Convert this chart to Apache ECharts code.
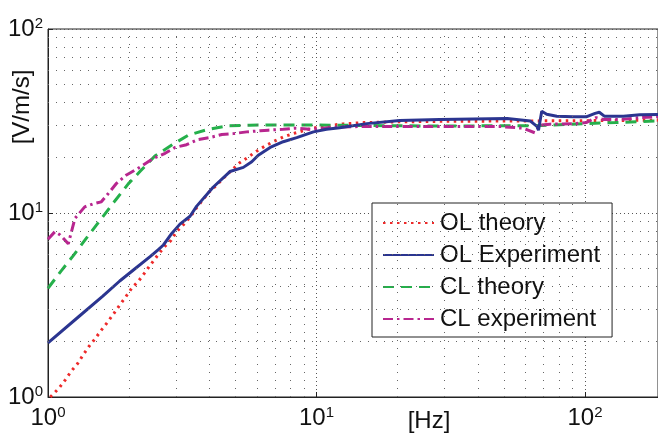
<!DOCTYPE html>
<html>
<head>
<meta charset="utf-8">
<script src="https://cdn.jsdelivr.net/npm/echarts/dist/echarts.min.js"></script>
<style>
  html, body { margin: 0; padding: 0; background: #fff; }
  #chart { width: 658px; height: 433px; }
</style>
</head>
<body>
<div id="chart"></div>
<script>
// OL theory
const olTheoryF = [1.02, 1.1, 1.16, 1.22, 1.29, 1.35, 1.42, 1.5, 1.58, 1.67, 1.76, 1.85, 1.95, 2.05, 2.18, 2.3, 2.42, 2.55, 2.7, 2.87, 3.01, 3.21, 3.4, 3.58, 3.98, 4.25, 4.53, 4.83, 5.16, 5.56, 5.96, 6.43, 6.94, 7.53, 8.18, 8.93, 9.7, 11, 12.6, 15, 20, 30, 50, 80, 120, 200];
const olTheoryV = [1.0, 1.12, 1.24, 1.38, 1.52, 1.69, 1.88, 2.08, 2.31, 2.56, 2.85, 3.16, 3.51, 3.9, 4.29, 4.76, 5.28, 5.84, 6.5, 7.1, 7.9, 8.7, 9.6, 10.7, 13.0, 14.2, 15.6, 17.1, 18.7, 20.1, 21.6, 23.1, 24.5, 25.9, 27.0, 28.0, 28.9, 29.8, 30.5, 31, 31.3, 31.5, 31.6, 31.7, 31.8, 32];

// OL experiment
const olExpF = [1.0, 1.3, 1.6, 1.85, 2.08, 2.4, 2.57, 2.69, 2.89, 3.1, 3.38, 3.58, 4.12, 4.76, 5.34, 5.74, 6.07, 6.72, 7.52, 8.44, 9.74, 10.9, 12.2, 15.4, 20.4, 28.8, 38.4, 51.3, 62.6, 66.4, 67.1, 69, 72, 78.5, 90.3, 101, 109, 113, 118, 139, 160, 200];
const olExpV = [1.97, 2.73, 3.53, 4.27, 4.9, 5.79, 6.3, 6.7, 7.74, 8.7, 9.6, 10.9, 13.8, 16.8, 17.7, 19.0, 20.6, 22.7, 24.4, 25.7, 27.6, 28.5, 29.1, 30.6, 31.8, 32.2, 32.4, 32.6, 31.6, 29.5, 28.2, 35.7, 34.4, 33.6, 33.3, 33.3, 34.8, 35.3, 33.6, 33.6, 34.2, 34.3];

// CL theory
const clTheoryF = [1.0, 1.12, 1.24, 1.41, 1.56, 1.78, 1.99, 2.2, 2.5, 2.89, 3.33, 3.95, 4.7, 5.65, 7, 9.6, 11.4, 20, 30, 50, 65, 80, 100, 130, 160, 200];
const clTheoryV = [3.9, 4.85, 5.85, 7.5, 9.1, 11.7, 14.4, 16.8, 20.4, 23.4, 26.5, 28.5, 29.8, 30.0, 30.1, 30.1, 30.0, 29.8, 29.7, 29.8, 29.8, 30.2, 30.6, 31.0, 31.4, 31.8];

// CL experiment
const clExpF = [1.0, 1.06, 1.11, 1.19, 1.26, 1.37, 1.47, 1.58, 1.68, 1.8, 1.96, 2.14, 2.26, 2.47, 2.73, 2.97, 3.28, 3.63, 4.01, 4.44, 4.9, 5.5, 6.17, 6.62, 7.52, 8.32, 9.6, 11.5, 14.5, 18.3, 27.3, 38.4, 48.3, 58.9, 65, 68, 74, 90, 101, 110, 117, 135, 160, 200];
const clExpV = [7.2, 7.9, 7.6, 6.8, 9.35, 10.8, 11.2, 11.5, 12.8, 14.5, 16.1, 17.3, 18.2, 19.8, 21.1, 22.7, 23.5, 25.1, 25.7, 26.7, 27.0, 27.6, 28.0, 28.2, 28.5, 28.9, 28.5, 29.2, 29.5, 29.5, 29.5, 29.5, 29.5, 28.9, 27.3, 30, 30.4, 30.6, 31, 33, 32.2, 32.2, 33, 33.6];

// minor grid positions
const xMinor = [2, 3, 4, 5, 6, 7, 8, 9, 20, 30, 40, 50, 60, 70, 80, 90];
const yMinor = [2, 3, 4, 5, 6, 7, 8, 9, 20, 30, 40, 50, 60, 70, 80, 90];

const font = 'Liberation Sans, Arial, Helvetica, sans-serif';
const zip = (a, b) => a.map((x, i) => [x, b[i]]);

const powLabel = v => '{b|10}{s|' + Math.round(Math.log10(v)) + '}';
const labelRich = {
  b: { fontSize: 24, lineHeight: 26, fontFamily: font, color: '#111' },
  s: { fontSize: 15, lineHeight: 15, verticalAlign: 'top', fontFamily: font, color: '#111' }
};

const minorGrid = {
  silent: true,
  symbol: 'none',
  label: { show: false },
  lineStyle: { color: '#666', width: 1, type: [1, 7] },
  data: xMinor.map(v => ({ xAxis: v })).concat(yMinor.map(v => ({ yAxis: v })))
};

const chart = echarts.init(document.getElementById('chart'));
chart.setOption({
  animation: false,
  backgroundColor: '#fff',
  grid: { left: 48, top: 29, right: 0, bottom: 36, containLabel: false, outerBoundsMode: 'none',
    show: true, borderColor: '#222', borderWidth: 1 },
  xAxis: {
    type: 'log', logBase: 10, min: 1, max: 187,
    axisLine: { lineStyle: { color: '#222' } },
    axisTick: { inside: true, length: 5, lineStyle: { color: '#222' } },
    axisLabel: { margin: 8, formatter: powLabel, rich: labelRich, showMaxLabel: false },
    splitLine: { show: true, lineStyle: { color: '#555', type: [1, 3] } }
  },
  yAxis: {
    type: 'log', logBase: 10, min: 1, max: 100,
    axisLine: { show: true, lineStyle: { color: '#222' } },
    axisTick: { show: true, inside: true, length: 5, lineStyle: { color: '#222' } },
    axisLabel: { margin: 5, formatter: powLabel, rich: labelRich },
    splitLine: { show: true, lineStyle: { color: '#555', type: [1, 3] } }
  },
  legend: {
    orient: 'vertical',
    left: 372, top: 203,
    padding: [8, 12, 6, 10],
    itemGap: 8,
    itemWidth: 51, itemHeight: 24,
    backgroundColor: '#fff',
    borderColor: '#222', borderWidth: 1, borderRadius: 0,
    itemStyle: { opacity: 0 },
    textStyle: { fontSize: 24, fontFamily: font, color: '#111', padding: [0, 0, 0, 1] },
    data: ['OL theory', 'OL Experiment', 'CL theory', 'CL experiment']
  },
  graphic: [
    { type: 'text', x: 22, y: 107, rotation: Math.PI / 2,
      style: { text: '[V/m/s]', fontSize: 24, fontFamily: font, fill: '#111', align: 'center', verticalAlign: 'middle' } },
    { type: 'text', x: 429, y: 421,
      style: { text: '[Hz]', fontSize: 24, fontFamily: font, fill: '#111', align: 'center', verticalAlign: 'middle' } }
  ],
  series: [
    { name: 'OL theory', type: 'line', showSymbol: false, symbol: 'none',
      data: zip(olTheoryF, olTheoryV),
      lineStyle: { color: '#ee2a2a', width: 3, type: [2.5, 4.5] },
      itemStyle: { color: '#ee2a2a' },
      markLine: minorGrid, z: 3 },
    { name: 'OL Experiment', type: 'line', showSymbol: false, symbol: 'none',
      data: zip(olExpF, olExpV),
      lineStyle: { color: '#2b3590', width: 3 },
      itemStyle: { color: '#2b3590' }, z: 4 },
    { name: 'CL theory', type: 'line', showSymbol: false, symbol: 'none',
      data: zip(clTheoryF, clTheoryV),
      lineStyle: { color: '#25b04b', width: 3, type: [11, 7] },
      itemStyle: { color: '#25b04b' }, z: 3 },
    { name: 'CL experiment', type: 'line', showSymbol: false, symbol: 'none',
      data: zip(clExpF, clExpV),
      lineStyle: { color: '#b8268f', width: 3, type: [10, 4, 2.5, 4] },
      itemStyle: { color: '#b8268f' }, z: 3 }
  ]
});
</script>
</body>
</html>
